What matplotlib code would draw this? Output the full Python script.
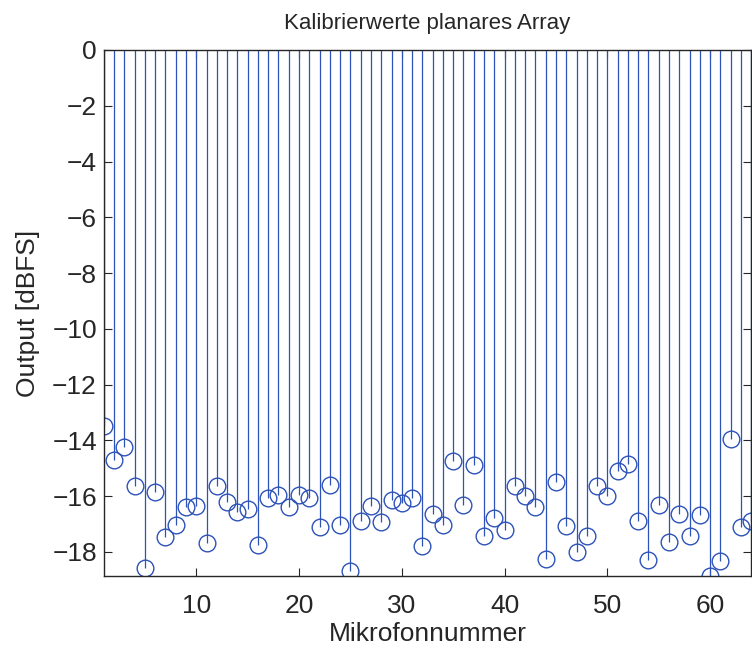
import matplotlib
matplotlib.use("Agg")
import matplotlib.pyplot as plt
import numpy as np

plt.rcParams['font.family'] = ['Liberation Sans', 'DejaVu Sans']

# calibration output per microphone, dBFS
mic = np.arange(1, 65)
output_dbfs = [
    -13.48, -14.70, -14.25, -15.65, -18.58, -15.86, -17.48, -17.04,
    -16.38, -16.34, -17.68, -15.63, -16.21, -16.57, -16.46, -17.75,
    -16.06, -15.95, -16.37, -15.96, -16.06, -17.12, -15.60, -17.03,
    -18.67, -16.89, -16.36, -16.94, -16.14, -16.24, -16.06, -17.78,
    -16.63, -17.03, -14.73, -16.32, -14.89, -17.42, -16.79, -17.20,
    -15.62, -15.99, -16.39, -18.24, -15.48, -17.08, -18.00, -17.44,
    -15.64, -16.01, -15.11, -14.85, -16.88, -18.29, -16.31, -17.65,
    -16.63, -17.41, -16.67, -18.86, -18.32, -13.94, -17.12, -16.88,
]
xticks = [10, 20, 30, 40, 50, 60]
yticks = [0, -2, -4, -6, -8, -10, -12, -14, -16, -18]

blue = '#2d52b8'

fig = plt.figure(figsize=(7.52, 6.45), dpi=100)
ax = fig.add_axes([0.138, 0.107, 0.861, 0.8155])

markerline, stemlines, baseline = ax.stem(mic, output_dbfs, bottom=0, basefmt=' ')
plt.setp(stemlines, color=blue, linewidth=0.9)
plt.setp(markerline, marker='o', markersize=12, markerfacecolor='none',
         markeredgecolor=blue, markeredgewidth=1.0)

ax.set_xlim(1, 64)
ax.set_ylim(min(output_dbfs), 0)
ax.set_xticks(xticks)
ax.set_yticks(yticks)
ax.set_yticklabels([str(t).replace('-', '\u2212') for t in yticks])
ax.tick_params(direction='in', top=True, right=True, length=5.5, width=0.8,
               labelsize=19, colors='#262626')
ax.tick_params(axis='y', pad=5)
ax.tick_params(axis='x', pad=13)
for sp in ax.spines.values():
    sp.set_linewidth(1.0)
    sp.set_color('#262626')

ax.set_title("Kalibrierwerte planares Array", fontsize=16, pad=15, color='#262626')
ax.set_xlabel("Mikrofonnummer", fontsize=19, labelpad=3, color='#262626')
ax.set_ylabel("Output [dBFS]", fontsize=19, labelpad=9, color='#262626')

fig.savefig("out.png", dpi=100)
